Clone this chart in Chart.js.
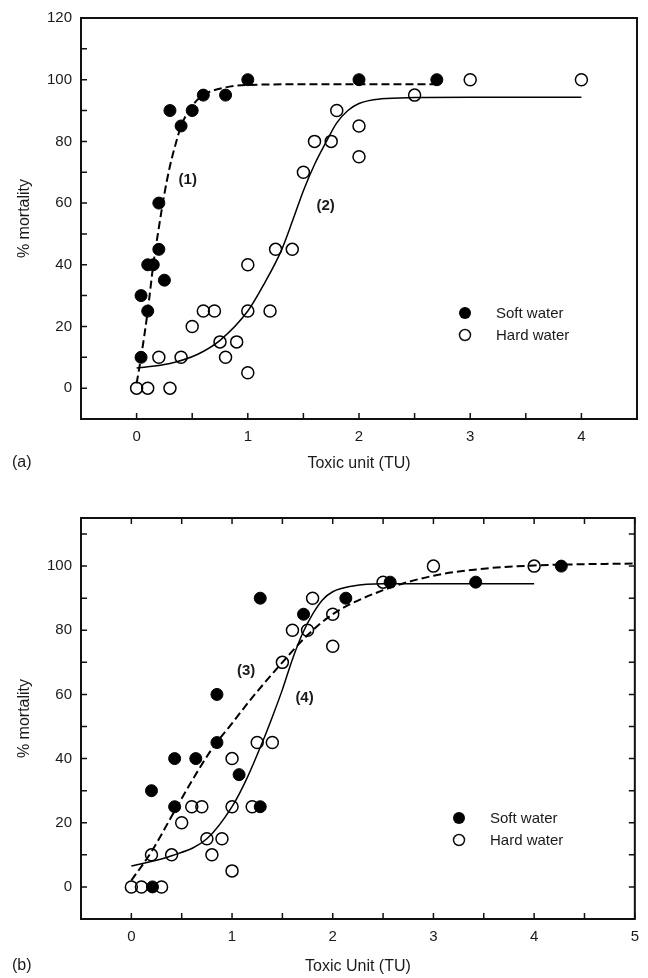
<!DOCTYPE html>
<html>
<head>
<meta charset="utf-8">
<script src="https://cdn.jsdelivr.net/npm/chart.js@4.4.1/dist/chart.umd.min.js"></script>
<style>
  body { margin: 0; background: #fff; width: 648px; height: 978px; position: relative; overflow: hidden; }
  canvas { position: absolute; left: 0; }
  #panelA { top: 0; }
  #panelB { top: 490px; }
  .tag { position: absolute; left: 12px; font: 16px "Liberation Sans", Arial, sans-serif; color: #1a1a1a; }
</style>
</head>
<body>
<canvas id="panelA" width="648" height="490"></canvas>
<canvas id="panelB" width="648" height="488"></canvas>
<div class="tag" style="top:453px">(a)</div>
<div class="tag" style="top:956px">(b)</div>
<script>
// ---- panel (a) ----
var softTU_a   = [0.04, 0.04, 0.1, 0.1, 0.15, 0.2, 0.2, 0.25, 0.3, 0.4, 0.5, 0.6, 0.8, 1.0, 2.0, 2.7];
var softMort_a = [10, 30, 25, 40, 40, 45, 60, 35, 90, 85, 90, 95, 95, 100, 100, 100];

// hard water points are the same in both panels
var hardTU   = [0, 0.1, 0.3, 0.2, 0.4, 0.5, 0.6, 0.7, 0.75, 0.9, 0.8, 1.0, 1.0, 1.0, 1.2, 1.25, 1.4, 1.5, 1.6, 1.75, 1.8, 2.0, 2.0, 2.5, 3.0, 4.0];
var hardMort = [0, 0, 0, 10, 10, 20, 25, 25, 15, 15, 10, 5, 25, 40, 25, 45, 45, 70, 80, 80, 90, 85, 75, 95, 100, 100];

// fitted curves
var curve1TU   = [0, 0.04, 0.1, 0.15, 0.2, 0.25, 0.3, 0.35, 0.4, 0.5, 0.6, 0.8, 1.0, 1.5, 2.7];
var curve1Mort = [1.5, 10, 25, 40, 52, 63, 72, 79, 85, 91.5, 95, 97.5, 98.3, 98.5, 98.5];
var curve2TU   = [0, 0.3, 0.55, 0.75, 1.0, 1.15, 1.3, 1.4, 1.5, 1.6, 1.7, 1.8, 1.9, 2.0, 2.2, 2.5, 3.0, 4.0];
var curve2Mort = [6.5, 8, 11, 15.5, 25, 34, 44.5, 54, 64, 72.5, 79.5, 86, 90, 92.3, 93.8, 94.2, 94.3, 94.3];

// ---- panel (b) ----
var softTU_b   = [0.21, 0.2, 0.43, 0.43, 0.64, 0.85, 0.85, 1.07, 1.28, 1.28, 1.71, 2.13, 2.57, 3.42, 4.27];
var softMort_b = [0, 30, 25, 40, 40, 45, 60, 35, 25, 90, 85, 90, 95, 95, 100];

var curve3TU   = [0, 0.2, 0.4, 0.6, 0.8, 1.0, 1.2, 1.5, 1.75, 2.0, 2.5, 3.0, 3.5, 4.0, 4.5, 5.0];
var curve3Mort = [2, 11, 22, 33, 43, 51, 59, 70, 78.5, 85, 92.5, 97, 99.2, 100.2, 100.6, 100.8];
var curve4TU   = [0, 0.4, 0.75, 1.0, 1.15, 1.3, 1.4, 1.5, 1.6, 1.7, 1.8, 1.9, 2.0, 2.2, 2.5, 3.0, 4.0];
var curve4Mort = [6.5, 9.7, 15, 25, 34, 45, 53, 61.5, 71, 79, 85, 89.5, 92, 93.8, 94.5, 94.5, 94.5];

// ticks
var xTicksA = [0, 1, 2, 3, 4];
var xMinorA = [0.5, 1.5, 2.5, 3.5];
var yTicksA = [0, 20, 40, 60, 80, 100, 120];
var yMinorA = [10, 30, 50, 70, 90, 110];
var xTicksB = [0, 1, 2, 3, 4, 5];
var xMinorB = [0.5, 1.5, 2.5, 3.5, 4.5];
var yTicksB = [0, 20, 40, 60, 80, 100];
var yMinorB = [10, 30, 50, 70, 90, 110];

var FONT = '"Liberation Sans", Arial, sans-serif';
var INK = '#1a1a1a';

function pts(xs, ys) {
  return xs.map(function (x, i) { return { x: x, y: ys[i] }; });
}

function soft(xs, ys) {
  return { type: 'scatter', data: pts(xs, ys), pointRadius: 6, pointHoverRadius: 6,
    backgroundColor: '#000', borderColor: '#000', borderWidth: 1, order: 1 };
}
function hard(xs, ys) {
  return { type: 'scatter', data: pts(xs, ys), pointRadius: 6, pointHoverRadius: 6,
    backgroundColor: 'rgba(0,0,0,0)', borderColor: '#000', borderWidth: 1.5, order: 1 };
}
function curve(xs, ys, dashed) {
  return { type: 'line', data: pts(xs, ys), pointRadius: 0, borderColor: '#000',
    borderWidth: dashed ? 2 : 1.5, borderDash: dashed ? [8, 4] : [],
    cubicInterpolationMode: 'monotone', fill: false, order: 2 };
}

// box, inward ticks, curve labels and legend
function framePlugin(o) {
  return {
    id: 'frame',
    afterDraw: function (chart) {
      var c = chart.ctx, a = chart.chartArea, xs = chart.scales.x, ys = chart.scales.y;
      c.save();
      c.strokeStyle = '#111';
      c.lineWidth = 2;
      c.strokeRect(a.left, a.top, a.right - a.left, a.bottom - a.top);
      c.lineWidth = 1.5;
      c.beginPath();
      o.xMarks.forEach(function (v) {
        var p = xs.getPixelForValue(v);
        c.moveTo(p, a.bottom); c.lineTo(p, a.bottom - 6);
        if (o.mirror) { c.moveTo(p, a.top); c.lineTo(p, a.top + 6); }
      });
      o.yMarks.forEach(function (v) {
        var p = ys.getPixelForValue(v);
        c.moveTo(a.left, p); c.lineTo(a.left + 6, p);
        if (o.mirror) { c.moveTo(a.right, p); c.lineTo(a.right - 6, p); }
      });
      c.stroke();

      c.fillStyle = INK;
      c.font = 'bold 15px ' + FONT;
      c.textAlign = 'center';
      c.textBaseline = 'middle';
      o.notes.forEach(function (n) {
        c.fillText(n.text, xs.getPixelForValue(n.x), ys.getPixelForValue(n.y));
      });

      // legend
      var L = o.legend;
      c.font = '15px ' + FONT;
      c.textAlign = 'left';
      c.beginPath(); c.arc(L.x, L.y, 6, 0, Math.PI * 2); c.fillStyle = '#000'; c.fill();
      c.beginPath(); c.arc(L.x, L.y + L.gap, 5.5, 0, Math.PI * 2); c.lineWidth = 1.5; c.stroke();
      c.fillStyle = INK;
      c.fillText('Soft water', L.x + 31, L.y + 1);
      c.fillText('Hard water', L.x + 31, L.y + L.gap + 1);
      c.restore();
    }
  };
}

function makeChart(id, cfg) {
  return new Chart(document.getElementById(id), {
    data: { datasets: cfg.datasets },
    options: {
      responsive: false,
      animation: false,
      events: [],
      layout: { padding: cfg.padding },
      plugins: { legend: { display: false }, tooltip: { enabled: false } },
      scales: {
        x: {
          type: 'linear', min: cfg.xMin, max: cfg.xMax,
          grid: { display: false, drawTicks: false },
          border: { display: false },
          afterBuildTicks: function (s) { s.ticks = cfg.xTicks.map(function (v) { return { value: v }; }); },
          afterFit: function (s) { s.height = cfg.xHeight; },
          ticks: { padding: 9, color: INK, font: { size: 15, family: FONT } },
          title: { display: true, text: cfg.xTitle, color: INK, font: { size: 16, family: FONT },
            padding: { top: 0, bottom: cfg.xTitlePad } }
        },
        y: {
          type: 'linear', min: cfg.yMin, max: cfg.yMax,
          grid: { display: false, drawTicks: false },
          border: { display: false },
          afterBuildTicks: function (s) { s.ticks = cfg.yTicks.map(function (v) { return { value: v }; }); },
          afterFit: function (s) { s.width = 81; },
          ticks: { padding: 9, color: INK, font: { size: 15, family: FONT } },
          title: { display: true, text: '% mortality', color: INK, font: { size: 16, family: FONT },
            padding: { top: 15, bottom: 0 } }
        }
      }
    },
    plugins: [framePlugin(cfg.frame)]
  });
}

makeChart('panelA', {
  datasets: [
    soft(softTU_a, softMort_a),
    hard(hardTU, hardMort),
    curve(curve1TU, curve1Mort, true),
    curve(curve2TU, curve2Mort, false)
  ],
  padding: { top: 16, right: 11, left: 0, bottom: 0 },
  xMin: -0.5, xMax: 4.5, yMin: -10, yMax: 120,
  xTicks: xTicksA, yTicks: yTicksA,
  xHeight: 71, xTitle: 'Toxic unit (TU)', xTitlePad: 17,
  frame: {
    xMarks: xTicksA.concat(xMinorA), yMarks: yTicksA.concat(yMinorA), mirror: false,
    notes: [{ text: '(1)', x: 0.46, y: 67.5 }, { text: '(2)', x: 1.7, y: 59 }],
    legend: { x: 465, y: 313, gap: 22 }
  }
});

makeChart('panelB', {
  datasets: [
    soft(softTU_b, softMort_b),
    hard(hardTU, hardMort),
    curve(curve3TU, curve3Mort, true),
    curve(curve4TU, curve4Mort, false)
  ],
  padding: { top: 28, right: 9, left: 0, bottom: 0 },
  xMin: -0.5, xMax: 5, yMin: -10, yMax: 115,
  xTicks: xTicksB, yTicks: yTicksB,
  xHeight: 59, xTitle: 'Toxic Unit (TU)', xTitlePad: 2,
  frame: {
    xMarks: xTicksB.concat(xMinorB), yMarks: yTicksB.concat(yMinorB), mirror: true,
    notes: [{ text: '(3)', x: 1.14, y: 67.5 }, { text: '(4)', x: 1.72, y: 59 }],
    legend: { x: 459, y: 328, gap: 22 }
  }
});
</script>
</body>
</html>
